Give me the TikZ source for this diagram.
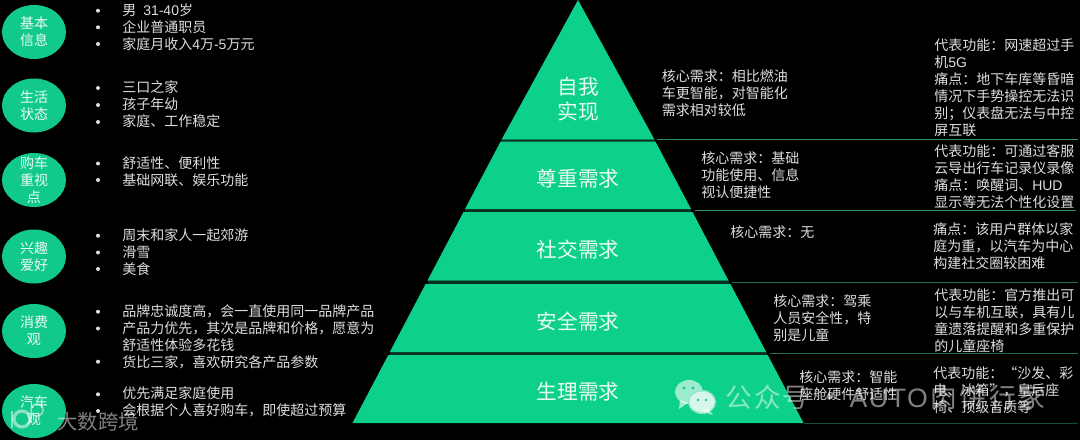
\documentclass[tikz,border=0pt]{standalone}
\usepackage{fontspec}
\setmainfont{Noto Sans CJK SC}
\newfontfamily\latfont{Liberation Sans}
\newfontfamily\latwide[LetterSpace=6]{Liberation Sans}
\newcommand{\lat}[1]{{\latfont #1}}
\newcommand{\zc}{\char"FF0C\relax}
\newcommand{\zk}{\char"FF1A\relax}
\newcommand{\zf}{\char"FF1B\relax}
\newcommand{\qopen}{\makebox[1em][r]{\char"201C\relax}}
\newcommand{\qclose}{\makebox[1em][l]{\char"201D\relax}}
\definecolor{pgreen}{HTML}{0DD18B}
\definecolor{egreen}{HTML}{12C98C}
\definecolor{sepa}{HTML}{2B8F69}
\definecolor{sepb}{HTML}{1F6E52}
\definecolor{sepc}{HTML}{154F3B}
\definecolor{bodytext}{HTML}{DEDEDE}
\definecolor{labeltext}{HTML}{EAFBF4}
\usetikzlibrary{shapes.geometric}
\tikzset{
  band/.style={fill=pgreen,draw=none},
  sepline/.style={line width=0.6pt},
  oval/.style={ellipse,fill=egreen,minimum width=48pt,minimum height=40.5pt,inner sep=0pt},
  ovaltext/.style={inner sep=0pt,align=center,text=labeltext,font=\fontsize{10.5}{12.75}\selectfont},
  txt/.style={anchor=north west,inner sep=0pt,align=left,text=bodytext,font=\fontsize{10.5}{12.75}\selectfont},
  pylabel/.style={inner sep=0pt,align=center,text=labeltext,font=\fontsize{15.5}{18.75}\selectfont},
  bullet/.style={circle,fill=bodytext,minimum size=3pt,inner sep=0pt},
  mark wm/.style={text=white,text opacity=0.5,inner sep=0pt},
}
\begin{document}
\begin{tikzpicture}[x=0.75pt,y=-0.75pt]
\useasboundingbox (0,0) rectangle (1080,440);
\fill[black] (0,0) rectangle (1080,440);

% separators
\fill[sepc!60!black] (501,139.5) rectangle (655,141.5);
\fill[sepc!60!black] (465,209) rectangle (691,212);
\fill[sepc!60!black] (428,280.5) rectangle (729,284);
\fill[sepc!60!black] (390,352) rectangle (767,355);
\draw[sepline,sepa] (657,139.5) -- (1078,139.5);
\draw[sepline,sepa] (695,210.5) -- (1076,210.5);
\draw[sepline,sepb] (732,282) -- (1078,282);
\draw[sepline,sepb] (770,353.5) -- (1078,353.5);
\draw[sepline,sepc] (804,423) -- (1078,423);

% pyramid
\fill[band] (578,0) -- (654.4,139.5) -- (501.6,139.5) -- cycle;
\fill[band] (500.6,141.5) -- (655.4,141.5) -- (691,209) -- (465,209) -- cycle;
\fill[band] (463.5,212) -- (692.5,212) -- (728.5,280.5) -- (427.5,280.5) -- cycle;
\fill[band] (425.6,284) -- (730.4,284) -- (766.2,352) -- (389.8,352) -- cycle;
\fill[band] (388.3,355) -- (767.7,355) -- (803.5,423) -- (352.5,423) -- cycle;

\node[pylabel] (p1) at (578,99.5) {自我\\实现};
\node[pylabel] (p2) at (578,179) {尊重需求};
\node[pylabel] (p3) at (578,249.5) {社交需求};
\node[pylabel] (p4) at (578,322) {安全需求};
\node[pylabel] (p5) at (578,392) {生理需求};

% ovals
\node[oval] (o1) at (34,32) {};
\node[oval] (o2) at (34,105.5) {};
\node[oval] (o3) at (34,180) {};
\node[oval] (o4) at (34,256.5) {};
\node[oval] (o5) at (34,331) {};
\node[oval] (o6) at (34,411) {};
\node[ovaltext] (t1) at (o1) {基本\\信息};
\node[ovaltext] (t2) at (o2) {生活\\状态};
\node[ovaltext] (t3) at (o3) {购车\\重视\\点};
\node[ovaltext] (t4) at (o4) {兴趣\\爱好};
\node[ovaltext] (t5) at (o5) {消费\\观};
\node[ovaltext] (t6) at (o6) {汽车\\观};

% bullets
\foreach \y [count=\i] in {10.7,27.3,44,88,105,122,163.5,180,235.7,252.5,269,311.7,328.5,361.7,394.3,411}
  \node[bullet] (b\i) at (98,\y) {};

% left lists
\node[txt] (l1) at (122,3.2) {男\hspace{0.5em}\lat{31-40}岁\\企业普通职员\\家庭月收入\lat{4}万\lat{-5}万元};
\node[txt] (l2) at (122,80.5) {三口之家\\孩子年幼\\家庭、工作稳定};
\node[txt] (l3) at (122,156) {舒适性、便利性\\基础网联、娱乐功能};
\node[txt] (l4) at (122,228.2) {周末和家人一起郊游\\滑雪\\美食};
\node[txt] (l5) at (122,304.2) {品牌忠诚度高\zc 会一直使用同一品牌产品\\产品力优先\zc 其次是品牌和价格\zc 愿意为\\舒适性体验多花钱\\货比三家\zc 喜欢研究各产品参数};
\node[txt] (l6) at (122,386.8) {优先满足家庭使用\\会根据个人喜好购车\zc 即使超过预算};

% middle column
\node[txt] (m1) at (661.7,69.2) {核心需求\zk 相比燃油\\车更智能\zc 对智能化\\需求相对较低};
\node[txt] (m2) at (701,151.5) {核心需求\zk 基础\\功能使用、信息\\视认便捷性};
\node[txt] (m3) at (730,225.5) {核心需求\zk 无};
\node[txt] (m4) at (773,294.2) {核心需求\zk 驾乘\\人员安全性\zc 特\\别是儿童};
\node[txt] (m5) at (799,370.2) {核心需求\zk 智能\\座舱硬件舒适性};

% right column
\node[txt] (r1) at (934,38.5) {代表功能\zk 网速超过手\\机\lat{5G}\\痛点\zk 地下车库等昏暗\\情况下手势操控无法识\\别\zf 仪表盘无法与中控\\屏互联};
\node[txt] (r2) at (934,144.2) {代表功能\zk 可通过客服\\云导出行车记录仪录像\\痛点\zk 唤醒词、\lat{HUD}\\显示等无法个性化设置};
\node[txt] (r3) at (933,222.5) {痛点\zk 该用户群体以家\\庭为重\zc 以汽车为中心\\构建社交圈较困难};
\node[txt] (r4) at (934,288.5) {代表功能\zk 官方推出可\\以与车机互联\zc 具有儿\\童遗落提醒和多重保护\\的儿童座椅};
\node[txt] (r5) at (933,366.5) {代表功能\zk\qopen 沙发、彩\\电、冰箱\qclose\zc 皇后座\\椅、顶级音质等};

% watermark right
\begin{scope}[opacity=0.6]
  \fill[white] (689,392) ellipse (14 and 12);
  \fill[white] (680,400) -- (679,409) -- (688,403) -- cycle;
\end{scope}
\fill[pgreen!45!white] (702,402) ellipse (14 and 12);
\fill[white,opacity=0.65] (702,402) ellipse (12.5 and 10.5);
\fill[white,opacity=0.65] (708,409) -- (713,415) -- (702,411) -- cycle;
\fill[pgreen] (684,388) circle (1.7) (693,388) circle (1.7) (698,400) circle (1.4) (706,400) circle (1.4);
\node[mark wm,anchor=west,font=\fontsize{20}{24}\selectfont] (wm1) at (725,397) {公\hspace{0.08em}众\hspace{0.08em}号\hspace{0.25em}·\hspace{0.25em}{\latwide AUTO}\hspace{0.1em}肉\hspace{0.1em}饼\hspace{0.1em}行\hspace{0.1em}家};

% watermark left
\node[mark wm,anchor=west,font=\fontsize{15.3}{18}\selectfont] (wm2) at (57,422) {大数跨境};
\begin{scope}[white,opacity=0.5]
  \draw[line width=2.2pt] (12,411) -- (12,428);
  \draw[line width=2.4pt] (22,419) circle (8);
  \draw[line width=1.2pt] (37,410) circle (6);
\end{scope}
\end{tikzpicture}
\end{document}
